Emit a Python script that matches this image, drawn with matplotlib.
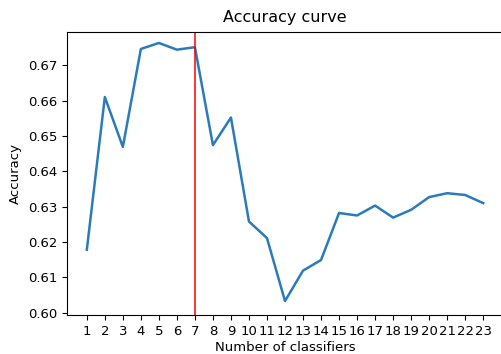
import matplotlib
matplotlib.use("Agg")
import matplotlib.pyplot as plt

n_classifiers = list(range(1, 24))
accuracy = [0.6178, 0.6610, 0.6469, 0.6746, 0.6763, 0.6744, 0.6751,
            0.6474, 0.6552, 0.6258, 0.6211, 0.6033, 0.6119, 0.6149,
            0.6282, 0.6275, 0.6303, 0.6269, 0.6291, 0.6327, 0.6338,
            0.6333, 0.6310]
best_n = 7


def main() -> None:
    plt.rcParams['font.size'] = 9.5
    fig = plt.figure(figsize=(5.01, 3.54), dpi=100)
    ax = fig.add_axes([67 / 501, 1 - 315 / 354, 436 / 501, 283 / 354])

    ax.plot(n_classifiers, accuracy, color='#2b7bba', linewidth=1.8)
    ax.axvline(best_n, color='r', linewidth=1.1)
    ax.set_xticks(n_classifiers)
    ax.set_xlim(-0.1, 24.1)
    ax.set_ylim(0.59935, 0.6794)
    ax.set_title("Accuracy curve", fontsize=11.5, pad=7)
    ax.set_xlabel("Number of classifiers", labelpad=2.5)
    ax.set_ylabel("Accuracy")

    fig.savefig("out.png", dpi=100)


if __name__ == '__main__':
    main()
